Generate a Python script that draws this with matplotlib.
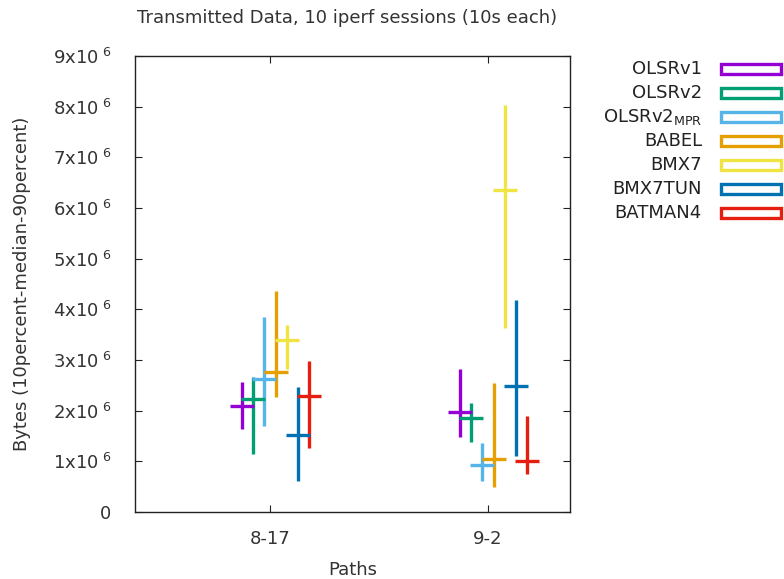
import matplotlib
matplotlib.use("Agg")
import matplotlib.pyplot as plt
from matplotlib.patches import Rectangle
import numpy as np

paths = ["8-17", "9-2"]
protocols = ["OLSRv1", "OLSRv2", "OLSRv2$_{\\mathrm{MPR}}$", "BABEL", "BMX7", "BMX7TUN", "BATMAN4"]
colors = ["#9400d3", "#009e73", "#56b4e9", "#e69f00", "#f0e442", "#0072b2", "#e51e10"]

# values in bytes (x1e6), per protocol: [8-17, 9-2]
p10 = {
    "OLSRv1":  [1.64, 1.49],
    "OLSRv2":  [1.14, 1.39],
    "MPR":     [1.70, 0.62],
    "BABEL":   [2.27, 0.50],
    "BMX7":    [2.82, 3.64],
    "BMX7TUN": [0.61, 1.11],
    "BATMAN4": [1.27, 0.75],
}
median = {
    "OLSRv1":  [2.09, 1.97],
    "OLSRv2":  [2.24, 1.85],
    "MPR":     [2.62, 0.93],
    "BABEL":   [2.76, 1.05],
    "BMX7":    [3.40, 6.35],
    "BMX7TUN": [1.52, 2.49],
    "BATMAN4": [2.29, 1.01],
}
p90 = {
    "OLSRv1":  [2.57, 2.82],
    "OLSRv2":  [2.66, 2.16],
    "MPR":     [3.85, 1.37],
    "BABEL":   [4.37, 2.54],
    "BMX7":    [3.70, 8.04],
    "BMX7TUN": [2.46, 4.18],
    "BATMAN4": [2.99, 1.89],
}
keys = ["OLSRv1", "OLSRv2", "MPR", "BABEL", "BMX7", "BMX7TUN", "BATMAN4"]

plt.rcParams['font.family'] = ['DejaVu Sans']
FS = 13
W, H = 784, 579
fig = plt.figure(figsize=(W / 100, H / 100), dpi=100)
ax = fig.add_axes([135 / W, 1 - 512 / H, (569.5 - 135) / W, (512 - 56) / H])

xpos = np.array([1.0, 2.0])
step = 0.0505
for i, k in enumerate(keys):
    lo = np.array(p10[k]) * 1e6
    me = np.array(median[k]) * 1e6
    hi = np.array(p90[k]) * 1e6
    x = xpos + (i - 2.5) * step
    ax.errorbar(x, me, yerr=[me - lo, hi - me], fmt='_', color=colors[i],
                markersize=17, mew=2.4, elinewidth=2.4, capsize=0, zorder=3)

ax.set_xlim(1 - 135 / 218, 2 + 81.5 / 218)
ax.set_ylim(0, 9e6)
ax.set_xticks(xpos)
ax.set_xticklabels(paths)
yt = np.arange(0, 10) * 1e6
ax.set_yticks(yt)
ax.set_yticklabels(["0"] + ["%dx10$^{\\ 6}$" % v for v in range(1, 10)])
ax.tick_params(axis='both', direction='in', length=5, width=0.8, color='#222222',
               labelsize=FS, labelcolor='#333333', top=True, right=True)
ax.tick_params(axis='y', pad=17)
ax.tick_params(axis='x', pad=13)
for s in ax.spines.values():
    s.set_color('#222222')
    s.set_linewidth(1.0)

fig.text(347 / W, 1 - 18 / H, "Transmitted Data, 10 iperf sessions (10s each)", fontsize=FS,
         color='#333333', ha='center', va='center')
ax.set_xlabel("Paths", fontsize=FS, color='#333333')
ax.xaxis.set_label_coords(0.5, (512 - 570) / 456)
ax.xaxis.label.set_va('center')
ax.set_ylabel("Bytes (10percent-median-90percent)", fontsize=FS, color='#333333')
ax.yaxis.set_label_coords((22 - 135) / 434.5, 0.5)
ax.yaxis.label.set_va('center')

# legend drawn manually
row_y = [69, 93, 117, 141, 165, 189, 213]
for i, lab in enumerate(protocols):
    y = row_y[i]
    fig.text(702 / W, 1 - y / H, lab, ha='right', va='center', fontsize=FS, color='#222222')
    fig.patches.append(Rectangle((721 / W, 1 - (y + 5) / H), 60 / W, 10 / H,
                                 transform=fig.transFigure, facecolor='white',
                                 edgecolor=colors[i], linewidth=2.4))

fig.savefig("out.png", dpi=100)
